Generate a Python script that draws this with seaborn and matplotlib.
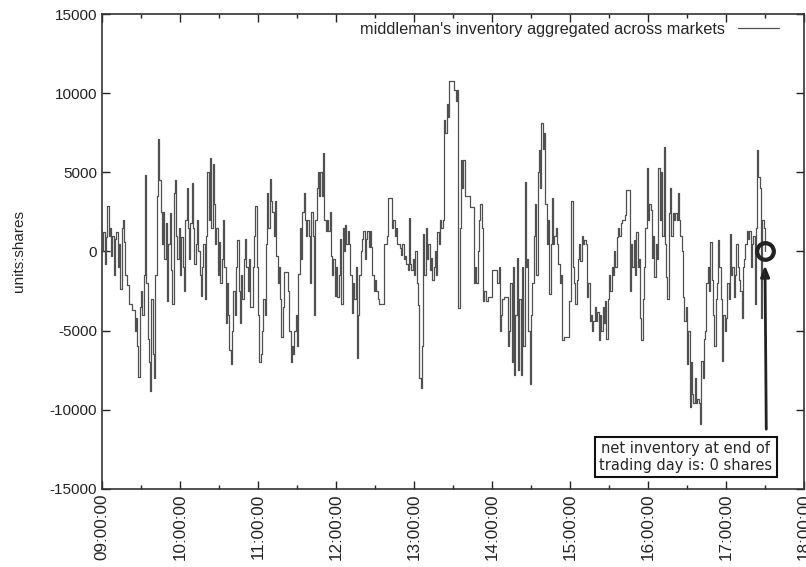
import numpy as np
import pandas as pd
import seaborn as sns
import matplotlib.pyplot as plt
import matplotlib.dates as mdates

# net inventory, one reading per minute from the 09:00 open
inventory = [
    0, 1200, -800, 900, 2900, 1000, 1500, -300, 1000, -1500,
    800, 1200, -1000, 500, -2400, 1500, 2000, 600, -1500, -2100,
    -2100, -3300, -3300, -3700, -3700, -5000, -4200, -6000, -7900, -3500,
    -2500, -4000, -1500, 4800, -2000, -5500, -7000, -8800, -3000, -6500,
    -8000, -1500, 3500, 7100, 4500, 2500, 500, 2500, -500, 1800,
    -3100, 500, 2400, -1200, -3300, 3700, 4500, 1000, -500, 1500,
    -1500, 900, -1000, -2500, 2000, 4000, 1500, -500, 1800, 4300,
    1500, -800, 500, 2000, 0, -1500, -2800, -1000, 500, -3000,
    1000, 5000, 2000, 5900, 1500, 5500, 3000, 500, 1500, -1500,
    600, -2000, -500, 2000, -1000, -4500, -2000, -4000, -6200, -7100,
    -5000, -2500, -4000, -1000, 700, -2500, -4500, -1500, -3000, -500,
    800, -1000, -2500, -500, -3500, -3500, -1000, 1000, 2900, -1000,
    -4000, -7000, -6500, -5000, -3000, -4000, 500, 3700, 1500, 4600,
    3200, 2500, 1000, 3200, -300, -2000, -1000, -3000, -5400, -3500,
    -1300, -1300, -1300, -2500, -5000, -7000, -6000, -6500, -5000, -4000,
    -6000, -1400, 1500, -500, 2500, 3700, 2000, 1000, 2000, 1000,
    -2000, 2500, 1000, -4000, 2000, 4000, 5000, 3500, 5000, 3500,
    6200, 2000, 1300, 2000, 1300, 2500, -300, -1500, -500, -2800,
    -1000, -2900, -1500, 800, -3300, 1500, 0, 1700, 500, 1300,
    500, -1500, -3900, -2000, -3000, -1000, -6700, -4000, -1500, 0,
    800, 1300, -500, 800, 1300, 300, 1300, 300, -1500, -2500,
    -1800, -2500, -3000, -3300, -3300, -3300, -3300, 500, 500, 1000,
    3400, 3400, 3400, 1500, 2000, 1000, 1500, 500, 500, 200,
    -200, 500, -500, -300, -800, -1200, 2100, -800, -1200, -500,
    -1500, 0, -2000, -3400, -8000, -8600, -6000, 1100, -1500, 1500,
    -500, 500, -1200, -400, -1800, -1000, 0, -1500, 1200, 500,
    2000, 1500, 2000, 8300, 7500, 9300, 8500, 10800, 10800, 10800,
    10800, 10200, 9500, 10200, -3600, 1500, 5800, 4000, 5800, 3500,
    3500, 3500, 3500, 2800, 2800, 2800, -2000, -1000, -2000, 0,
    2000, 3000, 1500, -3100, -2500, -3100, -3100, -2900, -2900, -2900,
    -1200, -1200, -1200, -1200, -2000, -1000, -5000, -4000, -3000, -2900,
    -2900, -2900, -6000, -5000, -2000, -7000, -1000, -7800, -4000, -400,
    -7500, -3000, -7800, -1000, -6000, 4400, -1000, -500, -5000, -8400,
    -4000, -2000, 1000, 3000, -1500, 5000, 6400, 4000, 8100, 6500,
    7500, 3000, 500, 2000, -2700, 500, 3400, 500, 1000, 1500,
    500, -800, -2000, -1500, -5600, -5400, -5400, -5400, -5400, -3100,
    -3100, 3200, -1000, -2000, -3300, -1800, -500, 500, -600, 1000,
    500, 700, 500, -2900, -2000, -4400, -4000, -5000, -4400, -3500,
    -4400, -3800, -5600, -4000, -5000, -3500, -4500, -3100, -5500, -3000,
    -1500, -2500, -1000, -1500, 0, -1000, 900, 1500, 1000, 1800,
    2000, 2000, 2300, 3900, 3900, 3900, -2500, 500, -1000, 700,
    -1500, 1200, -1000, -500, -4200, -5600, -3000, -1000, 1500, 5300,
    2000, 3000, 2600, -400, 1000, -1600, 500, -500, 5300, 2000,
    5000, 1000, 6600, 500, -1600, -3000, 2400, 4000, 1000, 2400,
    2000, 2400, 2000, 3700, 2000, 1000, 0, -2900, -4400, -3500,
    -7100, -5000, -9800, -7000, -9000, -9600, -8000, -9600, -9300, -9600,
    -10900, -6900, -8000, -5500, -5000, -2000, -1000, -2500, 600, -1800,
    -4000, -6000, -3000, -2000, 700, -1000, -3000, -6900, -4000, -5000,
    -4200, -2000, -3000, 1100, -1500, -1000, -2900, -1500, 500, -1000,
    -1800, -2500, -4200, -1000, -500, 500, 1300, 800, 1300, -1000,
    500, 1000, -3300, 1500, 6400, 4700, 4000, -4200, 2000, 1500,
    0,
]
day_open = "2010-01-04 09:00"
day_close = "2010-01-04 18:00"
y_ticks = [-15000, -10000, -5000, 0, 5000, 10000, 15000]

times = pd.date_range(day_open, periods=len(inventory), freq="min")
df = pd.DataFrame({"time": times, "inventory": inventory})

sns.set_theme(style="ticks")
plt.rcParams["font.family"] = ["Liberation Sans", "DejaVu Sans"]
plt.rcParams["axes.unicode_minus"] = False

fig = plt.figure(figsize=(8.06, 5.67), dpi=100)
ax = fig.add_axes([0.1266, 0.1376, 0.8709, 0.8377])

sns.lineplot(data=df, x="time", y="inventory", ax=ax, color="#505050",
             linewidth=0.9, drawstyle="steps-post", estimator=None,
             label="middleman's inventory aggregated across markets")

# end of day marker
ax.plot(times[-1], inventory[-1], marker="o", markersize=12,
        markerfacecolor="none", markeredgecolor="#222222",
        markeredgewidth=3, zorder=5)

ax.annotate("", xy=(pd.Timestamp("2010-01-04 17:30"), -700),
            xytext=(pd.Timestamp("2010-01-04 17:31"), -11400),
            arrowprops=dict(arrowstyle="-|>,head_length=0.55,head_width=0.22",
                            color="#222222", lw=2))
ax.text(pd.Timestamp("2010-01-04 16:29"), -12980,
        "net inventory at end of\ntrading day is: 0 shares",
        ha="center", va="center", fontsize=10.5, family="DejaVu Sans",
        linespacing=1.15,
        bbox=dict(boxstyle="square,pad=0.3", fc="white", ec="#111111", lw=1.5),
        zorder=6)

ax.set_xlim(pd.Timestamp(day_open), pd.Timestamp(day_close))
ax.set_ylim(-15000, 15000)
ax.set_yticks(y_ticks)
ax.xaxis.set_major_locator(mdates.HourLocator())
ax.xaxis.set_minor_locator(mdates.MinuteLocator(byminute=[30]))
ax.xaxis.set_major_formatter(mdates.DateFormatter("%H:%M:%S"))
plt.setp(ax.get_xticklabels(), rotation=90)

ax.tick_params(which="both", direction="in", top=True, right=True,
               labelsize=11, colors="#222222")
ax.tick_params(axis="x", labelsize=12.3)
ax.tick_params(which="major", length=6, width=1)
ax.tick_params(which="minor", length=3, width=1)
for side in ax.spines.values():
    side.set_color("#333333")
    side.set_linewidth(1.2)

ax.set_xlabel("")
ax.set_ylabel("units:shares", fontsize=11, labelpad=17)

ax.legend(loc="upper right", bbox_to_anchor=(0.971, 0.994), frameon=False,
          fontsize=11.8, markerfirst=False, handlelength=2.5,
          borderaxespad=0.1, borderpad=0.2)

fig.savefig("out.png", dpi=100)
